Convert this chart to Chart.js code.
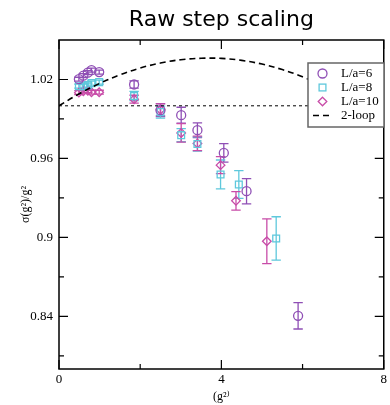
<!DOCTYPE html>
<html>
<head>
<meta charset="utf-8">
<script src="https://cdn.jsdelivr.net/npm/chart.js@4"></script>
<style>body{margin:0;background:#fff}</style>
</head>
<body>
<canvas id="c" width="390" height="405"></canvas>
<script>
'use strict';

// ---- data ----
const g2_L6  = [0.49, 0.60, 0.71, 0.80, 0.99, 1.85, 2.50, 3.01, 3.41, 4.06, 4.62, 5.89];
const sig_L6 = [1.0202, 1.0229, 1.0252, 1.0271, 1.0256, 1.0162, 0.9967, 0.9929, 0.9815, 0.9642, 0.9351, 0.8404];
const err_L6 = [0.0015, 0.0015, 0.0015, 0.0015, 0.0015, 0.0028, 0.0050, 0.0060, 0.0056, 0.0070, 0.0096, 0.0100];

const g2_L8  = [0.49, 0.60, 0.71, 0.80, 0.99, 1.85, 2.50, 3.01, 3.41, 3.98, 4.43, 5.35];
const sig_L8 = [1.0149, 1.0149, 1.0157, 1.0172, 1.0180, 1.0075, 0.9952, 0.9777, 0.9710, 0.9478, 0.9402, 0.8992];
const err_L8 = [0.0015, 0.0015, 0.0015, 0.0015, 0.0015, 0.0035, 0.0045, 0.0050, 0.0055, 0.0110, 0.0105, 0.0165];

const g2_L10  = [0.49, 0.60, 0.71, 0.80, 0.99, 1.85, 2.50, 3.01, 3.41, 3.98, 4.36, 5.12];
const sig_L10 = [1.0100, 1.0111, 1.0115, 1.0103, 1.0103, 1.0050, 0.9970, 0.9794, 0.9714, 0.9549, 0.9278, 0.8971];
const err_L10 = [0.0015, 0.0015, 0.0015, 0.0015, 0.0015, 0.0030, 0.0045, 0.0070, 0.0055, 0.0065, 0.0070, 0.0170];

// 2-loop curve, points
const g2_loop  = [0, 0.5, 1, 1.5, 2, 2.5, 3, 3.5, 4, 4.5, 5, 5.5, 6, 6.5, 7, 7.5, 8];
const sig_loop = [1.000, 1.0092, 1.0170, 1.0235, 1.0287, 1.0325, 1.0350, 1.0361, 1.0360,
                  1.0345, 1.0317, 1.0275, 1.0220, 1.0150, 1.0070, 0.9975, 0.9870];

const g2_one  = [0, 8];
const sig_one = [1, 1];

const xTicks = [0, 4, 8];
const xMinor = [2, 6];
const yTicks = [0.84, 0.9, 0.96, 1.02];
const yMinor = [0.81, 0.87, 0.93, 0.99];
const legendNames = ['L/a=6', 'L/a=8', 'L/a=10', '2-loop'];

const purple = '#8f4fb5';
const cyan = '#5ec8dc';
const magenta = '#c84ca8';

function pts(xs, ys) {
  return xs.map((v, i) => ({x: v, y: ys[i]}));
}

const serif = "'Liberation Serif', 'DejaVu Serif', serif";

//////////////////// plugins ////////////////////
const errorBars = {
  id: 'errorBars',
  beforeDatasetsDraw(chart) {
    const {ctx, scales: {x, y}, chartArea: a} = chart;
    const sets = [[g2_L6, sig_L6, err_L6, purple], [g2_L8, sig_L8, err_L8, cyan], [g2_L10, sig_L10, err_L10, magenta]];
    ctx.save();
    ctx.beginPath();
    ctx.rect(a.left, a.top, a.right - a.left, a.bottom - a.top);
    ctx.clip();
    ctx.lineWidth = 1.3;
    sets.forEach(s => {
      ctx.strokeStyle = s[3];
      for (let i = 0; i < s[0].length; i++) {
        const px = x.getPixelForValue(s[0][i]);
        const top = y.getPixelForValue(s[1][i] + s[2][i]);
        const bot = y.getPixelForValue(s[1][i] - s[2][i]);
        ctx.beginPath();
        ctx.moveTo(px, top); ctx.lineTo(px, bot);
        ctx.moveTo(px - 4.7, top); ctx.lineTo(px + 4.7, top);
        ctx.moveTo(px - 4.7, bot); ctx.lineTo(px + 4.7, bot);
        ctx.stroke();
      }
    });
    ctx.restore();
  }
};

const frame = {
  id: 'frame',
  afterDraw(chart) {
    const {ctx, scales: {x, y}, chartArea: a} = chart;
    ctx.save();
    ctx.strokeStyle = '#000';
    ctx.lineWidth = 1.5;
    ctx.strokeRect(a.left, a.top, a.right - a.left, a.bottom - a.top);
    ctx.lineWidth = 1.2;
    const tick = (vals, len) => {
      vals.forEach(v => {
        const px = x.getPixelForValue(v);
        ctx.beginPath();
        ctx.moveTo(px, a.bottom); ctx.lineTo(px, a.bottom - len);
        ctx.moveTo(px, a.top); ctx.lineTo(px, a.top + len);
        ctx.stroke();
      });
    };
    tick(xTicks, 9);
    tick(xMinor, 5);
    const ytick = (vals, len) => {
      vals.forEach(v => {
        const py = y.getPixelForValue(v);
        ctx.beginPath();
        ctx.moveTo(a.left, py); ctx.lineTo(a.left + len, py);
        ctx.moveTo(a.right, py); ctx.lineTo(a.right - len, py);
        ctx.stroke();
      });
    };
    ytick(yTicks, 9);
    ytick(yMinor, 5);

    // legend box inside the plot
    const bx = 308, by = 63, bw = 76, bh = 64;
    ctx.fillStyle = '#fff';
    ctx.fillRect(bx, by, bw, bh);
    ctx.strokeStyle = '#666';
    ctx.lineWidth = 1.5;
    ctx.strokeRect(bx, by, bw, bh);
    ctx.font = '13px ' + serif;
    ctx.fillStyle = '#000';
    ctx.textBaseline = 'middle';
    const rowY = [73.5, 87.5, 101.5, 115.5];
    const sx = 322.5;
    ctx.lineWidth = 1.3;
    // circle
    ctx.strokeStyle = purple;
    ctx.beginPath(); ctx.arc(sx, rowY[0], 4.5, 0, Math.PI * 2); ctx.stroke();
    // square
    ctx.strokeStyle = cyan;
    ctx.strokeRect(sx - 3.4, rowY[1] - 3.4, 6.8, 6.8);
    // diamond
    ctx.strokeStyle = magenta;
    ctx.beginPath();
    ctx.moveTo(sx, rowY[2] - 4.3); ctx.lineTo(sx + 4.3, rowY[2]);
    ctx.lineTo(sx, rowY[2] + 4.3); ctx.lineTo(sx - 4.3, rowY[2]);
    ctx.closePath(); ctx.stroke();
    // dashed
    ctx.strokeStyle = '#000';
    ctx.lineWidth = 1.6;
    ctx.setLineDash([6, 4]);
    ctx.beginPath(); ctx.moveTo(313, rowY[3]); ctx.lineTo(333, rowY[3]); ctx.stroke();
    ctx.setLineDash([]);
    legendNames.forEach((n, i) => ctx.fillText(n, 341, rowY[i] + 0.5));
    ctx.restore();
  }
};

//////////////////// chart ////////////////////
new Chart(document.getElementById('c'), {
  type: 'scatter',
  data: {
    datasets: [
      {
        label: '2-loop',
        data: pts(g2_loop, sig_loop),
        showLine: true,
        borderColor: '#000',
        borderWidth: 1.6,
        borderDash: [6, 4],
        pointRadius: 0,
        tension: 0.4
      },
      {
        label: 'one',
        data: pts(g2_one, sig_one),
        showLine: true,
        borderColor: '#000',
        borderWidth: 1,
        borderDash: [3, 3],
        pointRadius: 0
      },
      {
        label: legendNames[0],
        data: pts(g2_L6, sig_L6),
        pointStyle: 'circle',
        pointRadius: 4.5,
        borderColor: purple,
        backgroundColor: 'rgba(0,0,0,0)',
        borderWidth: 1.3
      },
      {
        label: legendNames[1],
        data: pts(g2_L8, sig_L8),
        pointStyle: 'rect',
        pointRadius: 4.8,
        borderColor: cyan,
        backgroundColor: 'rgba(0,0,0,0)',
        borderWidth: 1.3
      },
      {
        label: legendNames[2],
        data: pts(g2_L10, sig_L10),
        pointStyle: 'rectRot',
        pointRadius: 4.3,
        borderColor: magenta,
        backgroundColor: 'rgba(0,0,0,0)',
        borderWidth: 1.3
      }
    ]
  },
  options: {
    responsive: false,
    animation: false,
    layout: {padding: {left: 0, right: 2, top: 0, bottom: 0}},
    plugins: {
      legend: {display: false},
      tooltip: {enabled: false},
      title: {
        display: true,
        text: 'Raw step scaling',
        fullSize: false,
        color: '#000',
        font: {family: "'DejaVu Sans', sans-serif", size: 22, weight: 'normal'},
        padding: {top: 7, bottom: 6.6}
      }
    },
    scales: {
      x: {
        type: 'linear',
        min: 0, max: 8,
        grid: {display: false, drawTicks: false},
        border: {display: false},
        afterBuildTicks: s => { s.ticks = xTicks.map(v => ({value: v})); },
        afterFit: s => { s.height = 36; },
        ticks: {color: '#000', font: {family: serif, size: 13}, padding: 3, maxRotation: 0,
          callback: v => String(v)},
        title: {display: true, text: '(g²⁾', color: '#000', font: {family: serif, size: 12},
          padding: {top: 0, bottom: 1}}
      },
      y: {
        type: 'linear',
        min: 0.80, max: 1.05,
        grid: {display: false, drawTicks: false},
        border: {display: false},
        afterBuildTicks: s => { s.ticks = yTicks.map(v => ({value: v})); },
        afterFit: s => { s.width = 59; },
        ticks: {color: '#000', font: {family: serif, size: 13}, padding: 6,
          callback: v => String(Math.round(v * 100) / 100)},
        title: {display: true, text: 'σ(g²)/g²', color: '#000', font: {family: serif, size: 12},
          padding: {top: 19, bottom: 0}}
      }
    }
  },
  plugins: [errorBars, frame]
});
</script>
</body>
</html>
